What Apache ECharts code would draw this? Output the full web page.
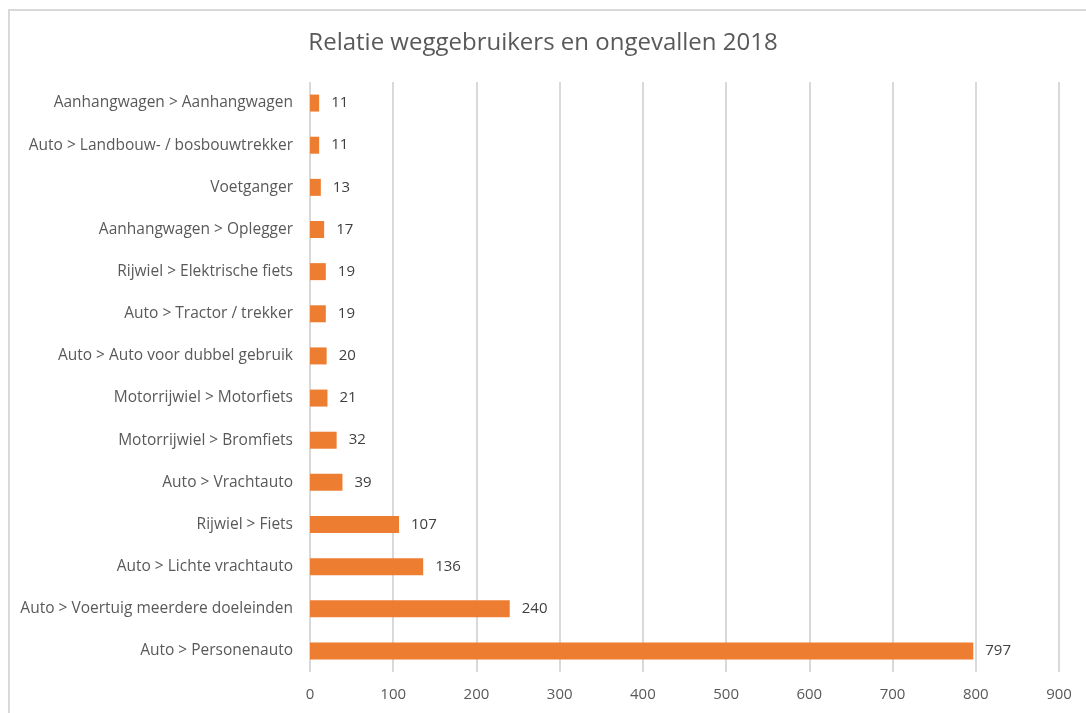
<!DOCTYPE html>
<html>
<head>
<meta charset="utf-8">
<script src="https://cdn.jsdelivr.net/npm/echarts@6/dist/echarts.min.js"></script>
<style>
  html, body { margin: 0; padding: 0; background: #fff; overflow: hidden; }
  #frame {
    position: absolute; left: 8px; top: 9px; width: 1090px; height: 720px;
    border: 2px solid #d9d9d9; box-sizing: border-box;
  }
  #main { position: absolute; left: 0; top: 0; width: 1086px; height: 713px; }
</style>
</head>
<body>
<div id="frame"></div>
<div id="main"></div>
<script>
// categories listed bottom to top (ECharts category y axis starts at the bottom)
const categories = [
  'Auto > Personenauto',
  'Auto > Voertuig meerdere doeleinden',
  'Auto > Lichte vrachtauto',
  'Rijwiel > Fiets',
  'Auto > Vrachtauto',
  'Motorrijwiel > Bromfiets',
  'Motorrijwiel > Motorfiets',
  'Auto > Auto voor dubbel gebruik',
  'Auto > Tractor / trekker',
  'Rijwiel > Elektrische fiets',
  'Aanhangwagen > Oplegger',
  'Voetganger',
  'Auto > Landbouw- / bosbouwtrekker',
  'Aanhangwagen > Aanhangwagen'
]
const accidents = [797, 240, 136, 107, 39, 32, 21, 20, 19, 19, 17, 13, 11, 11]

let myChart = echarts.init(document.getElementById('main'))
let font = '"Open Sans", sans-serif'

let option = {
  animation: false,
  title: {
    text: 'Relatie weggebruikers en ongevallen 2018',
    left: 'center',
    top: 26,
    textStyle: {
      fontFamily: font,
      fontSize: 24,
      fontWeight: 'normal',
      color: '#595959'
    }
  },
  grid: {
    left: 310,
    right: 27,
    top: 82,
    bottom: 41,
    containLabel: false
  },
  xAxis: {
    type: 'value',
    min: 0,
    max: 900,
    interval: 100,
    axisLine: {show: false},
    axisTick: {show: false},
    axisLabel: {
      margin: 15,
      fontFamily: font,
      fontSize: 15,
      color: '#595959'
    },
    splitLine: {
      lineStyle: {color: '#d9d9d9', width: 2}
    }
  },
  yAxis: {
    type: 'category',
    data: categories,
    axisLine: {show: false},
    axisTick: {show: false},
    axisLabel: {
      margin: 17,
      fontFamily: font,
      fontSize: 15.5,
      color: '#595959'
    }
  },
  series: [
    {
      type: 'bar',
      data: accidents,
      barWidth: 17,
      itemStyle: {color: '#ED7D31'},
      label: {
        show: true,
        position: 'right',
        distance: 12,
        fontFamily: font,
        fontSize: 15,
        color: '#404040'
      }
    }
  ]
}
myChart.setOption(option, true)
</script>
</body>
</html>
